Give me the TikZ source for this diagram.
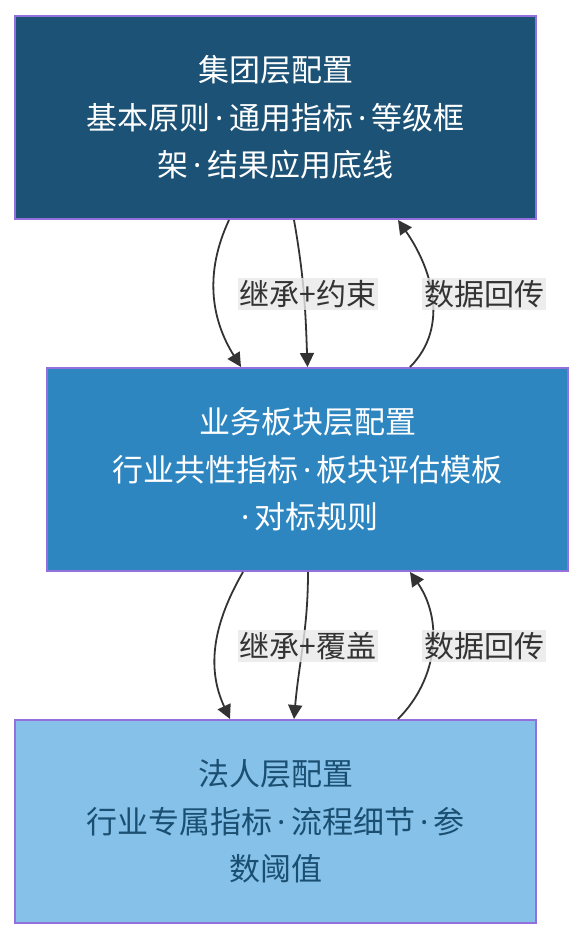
\documentclass[tikz,border=0pt]{standalone}
\usepackage{fontspec}
\usepackage{xcolor}
\usepackage{tikz}
\usetikzlibrary{arrows.meta, positioning}
\newfontfamily\cjk{Noto Sans CJK SC}
\newfontfamily\latin{Noto Sans}
\newcommand{\mdot}{{\latin\,·\,}}
\definecolor{groupblue}{HTML}{1B5276}
\definecolor{unitblue}{HTML}{2E86C1}
\definecolor{entityblue}{HTML}{85C1E9}
\definecolor{entitytext}{HTML}{1B4F72}
\definecolor{borderpurple}{HTML}{9370DB}
\definecolor{edgegray}{HTML}{333333}
\definecolor{labelgray}{HTML}{E8E8E8}

\begin{document}
\begin{tikzpicture}[
    x=1pt, y=1pt,
    layer/.style={rectangle, draw=borderpurple, line width=2pt, minimum width=521pt,
        minimum height=203pt, align=center, font=\cjk\fontsize{31}{47.5}\selectfont},
    flow/.style={draw=edgegray, line width=1.8pt, -{Triangle[length=14pt,width=14pt]}},
    tag/.style={fill=labelgray, fill opacity=0.8, text opacity=1, text=edgegray,
        inner sep=2pt, font=\cjk\fontsize{30}{34}\selectfont}
]
\useasboundingbox (0,0) rectangle (584,-940);
\node[layer, fill=groupblue, text=white] (group) at (275.5,-117.5)
    {集团层配置\\基本原则\mdot 通用指标\mdot 等级框\\架\mdot 结果应用底线};
\node[layer, fill=unitblue, text=white] (unit) at (307.5,-469.5)
    {业务板块层配置\\行业共性指标\mdot 板块评估模板\\\mdot 对标规则};
\node[layer, fill=entityblue, text=entitytext] (entity) at (275.5,-821.5)
    {法人层配置\\行业专属指标\mdot 流程细节\mdot 参\\数阈值};
% group -> unit
\draw[flow] ([xshift=-46.5pt]group.south) to[out=-115, in=122] ([xshift=-66.5pt]unit.north);
\draw[flow] ([xshift=18.5pt]group.south) to[out=-80, in=92] ([xshift=0pt]unit.north);
\draw[flow] ([xshift=102.5pt]unit.north) to[out=45, in=-55] ([xshift=122.5pt]group.south);
\node[tag] (inherit1) at (308,-294) {继承+约束};
\node[tag] (feedback1) at (484,-294) {数据回传};
% unit -> entity
\draw[flow] ([xshift=-64.5pt]unit.south) to[out=-120, in=115] ([xshift=-45.5pt]entity.north);
\draw[flow] ([xshift=0.5pt]unit.south) to[out=-90, in=85] ([xshift=18.5pt]entity.north);
\draw[flow] ([xshift=122.5pt]entity.north) to[out=45, in=-55] ([xshift=102.5pt]unit.south);
\node[tag] (inherit2) at (308,-646) {继承+覆盖};
\node[tag] (feedback2) at (484,-646) {数据回传};
\end{tikzpicture}
\end{document}
